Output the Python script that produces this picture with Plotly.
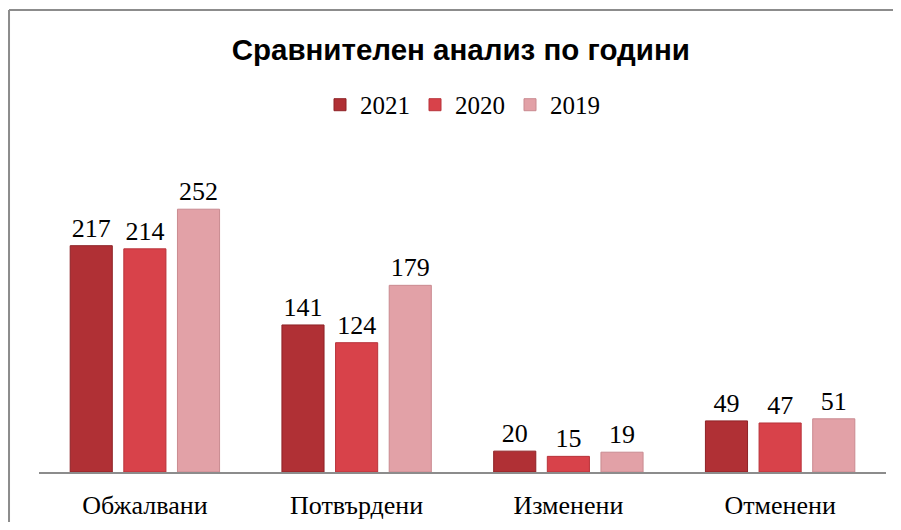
import plotly.graph_objects as go

categories = ["Обжалвани", "Потвърдени", "Изменени", "Отменени"]
series_names = ["2021", "2020", "2019"]
values_2021 = [217, 141, 20, 49]
values_2020 = [214, 124, 15, 47]
values_2019 = [252, 179, 19, 51]
colors = ["#B03035", "#D8424A", "#E2A1A7"]
line_colors = ["#8E2226", "#B8333A", "#C98A90"]

all_values = [values_2021, values_2020, values_2019]
SERIF = "Liberation Serif, Times New Roman, serif"

fig = go.Figure()
for name, vals, c, lc in zip(series_names, all_values, colors, line_colors):
    fig.add_trace(go.Bar(
        x=categories, y=vals, name=name,
        marker=dict(color=c, line=dict(color=lc, width=1)),
        text=[str(v) for v in vals], textposition="outside",
        textfont=dict(family=SERIF, size=26, color="#000000"),
        outsidetextfont=dict(family=SERIF, size=26, color="#000000"),
        cliponaxis=False,
    ))

# page body has an 8px margin, so the figure is sized/offset to compensate
fig.update_layout(
    width=893, height=514,
    margin=dict(l=31, r=15, t=172, b=50, autoexpand=False),
    paper_bgcolor="white", plot_bgcolor="white",
    barmode="group", bargap=0.24, bargroupgap=0.215,
    title=dict(text="<b>Сравнителен анализ по години</b>",
               x=0.507, xanchor="center", y=1 - 42 / 514, yanchor="middle",
               font=dict(family="Liberation Sans, Arial, sans-serif", size=29.5, color="#000000")),
    legend=dict(orientation="h", x=0.500, xanchor="center", y=1.257, yanchor="middle",
                font=dict(family=SERIF, size=25, color="#000000"),
                itemwidth=30, traceorder="normal", bgcolor="rgba(0,0,0,0)"),
    showlegend=True,
    xaxis=dict(showline=True, linecolor="#8C8C8C", linewidth=2, showgrid=False,
               ticks="", ticklabelstandoff=9, automargin=False,
               tickfont=dict(family=SERIF, size=26, color="#000000")),
    yaxis=dict(range=[0, 280], visible=False, showgrid=False, zeroline=False,
               automargin=False),
)

# chart-area frame (left and top edges visible in the crop)
frame = dict(color="#8C8C8C", width=2)
fig.add_shape(type="line", xref="paper", yref="paper",
              x0=-0.0354, x1=-0.0354, y0=-0.4, y1=1.582, line=frame, layer="below")
fig.add_shape(type="line", xref="paper", yref="paper",
              x0=-0.0354, x1=1.2, y0=1.582, y1=1.582, line=frame, layer="below")

fig.write_html("out.html")
